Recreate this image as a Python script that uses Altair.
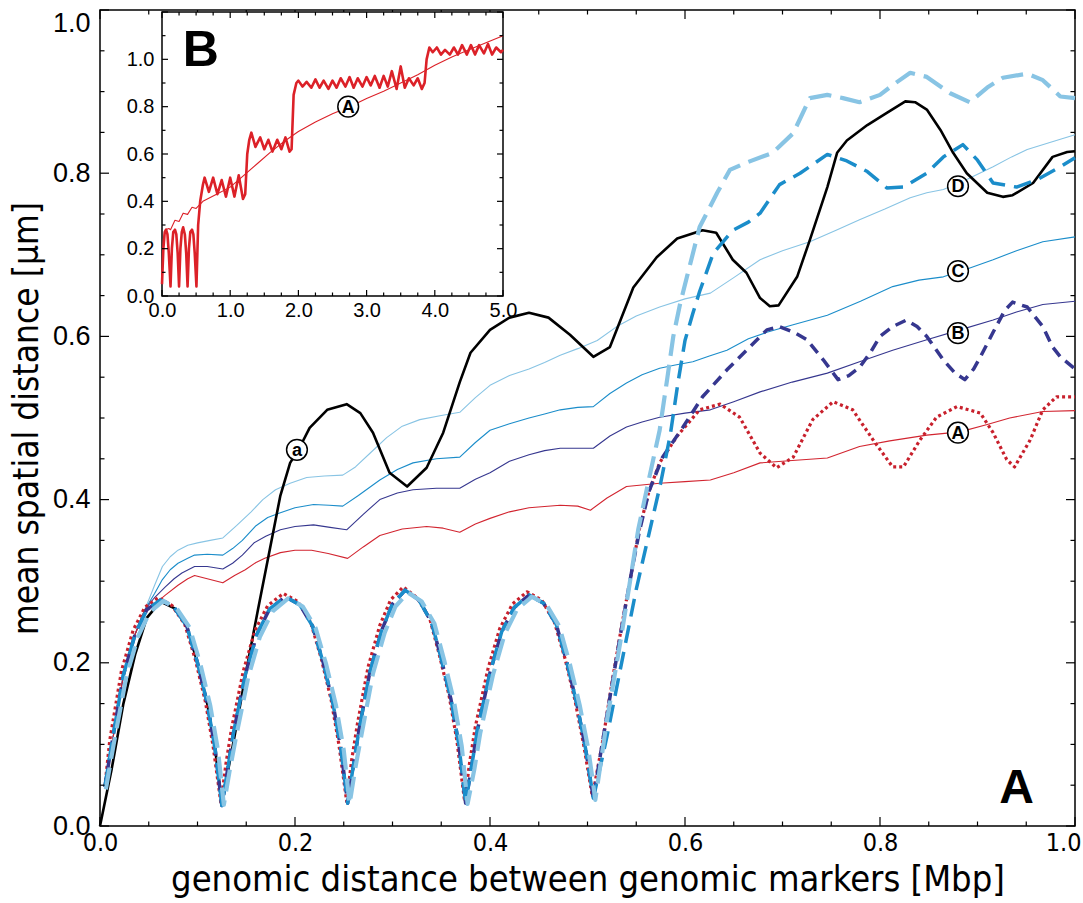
import altair as alt
import pandas as pd

# ---------------- main panel data (x in Mbp, y in um) ----------------
# oscillating start shared by curves B and C
osc_x = [0.005, 0.012, 0.024, 0.036, 0.048, 0.062, 0.076, 0.089, 0.1, 0.11, 0.118, 0.125,
         0.131, 0.137, 0.149, 0.161, 0.174, 0.19, 0.205, 0.218, 0.229, 0.239, 0.247, 0.254,
         0.26, 0.266, 0.277, 0.289, 0.3, 0.313, 0.327, 0.34, 0.35, 0.36, 0.368, 0.375,
         0.381, 0.387, 0.4, 0.412, 0.425, 0.44, 0.455, 0.468, 0.479, 0.489, 0.498, 0.506]
osc_y = [0.048, 0.1, 0.185, 0.235, 0.265, 0.277, 0.268, 0.245, 0.2, 0.15, 0.095, 0.025,
         0.07, 0.115, 0.185, 0.235, 0.266, 0.281, 0.271, 0.245, 0.2, 0.15, 0.095, 0.028,
         0.075, 0.12, 0.19, 0.24, 0.272, 0.289, 0.277, 0.25, 0.205, 0.155, 0.1, 0.028,
         0.072, 0.117, 0.188, 0.238, 0.268, 0.283, 0.273, 0.247, 0.2, 0.15, 0.095, 0.034]
# oscillating start of curve A (red dotted)
osc_x_A = [0.005, 0.01, 0.022, 0.034, 0.046, 0.06, 0.074, 0.087, 0.098, 0.108, 0.116, 0.124,
           0.129, 0.135, 0.147, 0.159, 0.172, 0.188, 0.203, 0.216, 0.227, 0.237, 0.245, 0.253,
           0.258, 0.264, 0.275, 0.287, 0.298, 0.311, 0.325, 0.338, 0.348, 0.358, 0.366, 0.374,
           0.379, 0.385, 0.398, 0.41, 0.423, 0.438, 0.453, 0.466, 0.477, 0.487, 0.496, 0.505]
osc_y_A = [0.048, 0.105, 0.19, 0.24, 0.268, 0.28, 0.27, 0.247, 0.203, 0.153, 0.098, 0.028,
           0.075, 0.12, 0.19, 0.24, 0.27, 0.285, 0.275, 0.25, 0.205, 0.155, 0.1, 0.03,
           0.08, 0.125, 0.195, 0.246, 0.277, 0.293, 0.28, 0.255, 0.21, 0.16, 0.105, 0.03,
           0.077, 0.122, 0.193, 0.242, 0.272, 0.287, 0.277, 0.25, 0.205, 0.155, 0.1, 0.036]
# oscillating start of curve D (light blue long dash)
osc_x_D = [0.006, 0.014, 0.027, 0.039, 0.051, 0.065, 0.079, 0.092, 0.103, 0.113, 0.121, 0.127,
           0.133, 0.14, 0.152, 0.164, 0.177, 0.193, 0.208, 0.221, 0.232, 0.242, 0.25, 0.256,
           0.262, 0.269, 0.28, 0.292, 0.303, 0.316, 0.33, 0.343, 0.353, 0.363, 0.371, 0.377,
           0.384, 0.39, 0.403, 0.415, 0.428, 0.443, 0.458, 0.471, 0.482, 0.492, 0.501, 0.508]
osc_y_D = [0.045, 0.1, 0.183, 0.232, 0.262, 0.276, 0.266, 0.243, 0.198, 0.148, 0.093, 0.026,
           0.068, 0.112, 0.182, 0.232, 0.263, 0.279, 0.269, 0.243, 0.198, 0.148, 0.093, 0.027,
           0.072, 0.117, 0.187, 0.237, 0.269, 0.286, 0.275, 0.248, 0.203, 0.153, 0.098, 0.027,
           0.07, 0.114, 0.185, 0.235, 0.266, 0.281, 0.271, 0.245, 0.198, 0.148, 0.093, 0.032]

a_tail_x = [0.515, 0.525, 0.535, 0.545, 0.553, 0.563, 0.574, 0.592, 0.615, 0.636, 0.656, 0.677,
            0.694, 0.711, 0.731, 0.752, 0.772, 0.793, 0.813, 0.824, 0.841, 0.858, 0.879, 0.903,
            0.916, 0.93, 0.938, 0.954, 0.967, 0.981, 1.0]
a_tail_y = [0.1, 0.175, 0.245, 0.31, 0.363, 0.41, 0.445, 0.478, 0.51, 0.517, 0.501, 0.457,
            0.439, 0.452, 0.498, 0.52, 0.51, 0.473, 0.44, 0.44, 0.473, 0.501, 0.514, 0.506,
            0.482, 0.449, 0.44, 0.473, 0.51, 0.526, 0.526]

b_tail_x = [0.515, 0.525, 0.535, 0.545, 0.553, 0.563, 0.577, 0.598, 0.618, 0.643, 0.663, 0.684,
            0.697, 0.712, 0.725, 0.742, 0.757, 0.768, 0.779, 0.79, 0.8, 0.813, 0.827, 0.838,
            0.848, 0.865, 0.877, 0.887, 0.896, 0.903, 0.916, 0.928, 0.936, 0.951, 0.967, 0.977,
            0.985, 1.0]
b_tail_y = [0.1, 0.172, 0.243, 0.31, 0.36, 0.41, 0.452, 0.489, 0.526, 0.559, 0.583, 0.608,
            0.612, 0.605, 0.596, 0.571, 0.547, 0.552, 0.562, 0.58, 0.6, 0.612, 0.62, 0.612,
            0.6, 0.571, 0.555, 0.547, 0.56, 0.575, 0.605, 0.632, 0.642, 0.636, 0.612, 0.587,
            0.575, 0.56]

c_tail_x = [0.52, 0.535, 0.55, 0.564, 0.575, 0.585, 0.593, 0.6, 0.608, 0.615, 0.629, 0.649,
            0.665, 0.677, 0.697, 0.718, 0.746, 0.766, 0.787, 0.807, 0.824, 0.848, 0.865, 0.885,
            0.9, 0.916, 0.94, 0.961, 0.985, 1.0]
c_tail_y = [0.11, 0.2, 0.29, 0.363, 0.42, 0.48, 0.545, 0.595, 0.628, 0.655, 0.702, 0.73,
            0.74, 0.751, 0.786, 0.8, 0.823, 0.815, 0.802, 0.782, 0.783, 0.8, 0.82, 0.835,
            0.816, 0.788, 0.783, 0.792, 0.808, 0.819]

d_tail_x = [0.52, 0.535, 0.552, 0.563, 0.574, 0.582, 0.588, 0.595, 0.602, 0.615, 0.633, 0.646,
            0.663, 0.69, 0.711, 0.728, 0.746, 0.762, 0.779, 0.8, 0.813, 0.831, 0.848, 0.872,
            0.892, 0.91, 0.926, 0.951, 0.967, 0.985, 1.0]
d_tail_y = [0.13, 0.235, 0.363, 0.425, 0.485, 0.55, 0.6, 0.64, 0.673, 0.734, 0.776, 0.804,
            0.813, 0.825, 0.849, 0.892, 0.896, 0.892, 0.887, 0.896, 0.908, 0.923, 0.918, 0.898,
            0.887, 0.905, 0.917, 0.922, 0.914, 0.894, 0.892]

blk_x = [0.0, 0.012, 0.024, 0.036, 0.048, 0.062, 0.076, 0.089, 0.1, 0.11, 0.118, 0.125, 0.138,
         0.15, 0.162, 0.174, 0.185, 0.195, 0.204, 0.215, 0.233, 0.253, 0.267, 0.28, 0.297, 0.315,
         0.335, 0.352, 0.369, 0.38, 0.4, 0.42, 0.44, 0.46, 0.482, 0.506, 0.523, 0.547, 0.571,
         0.592, 0.618, 0.632, 0.649, 0.663, 0.677, 0.687, 0.696, 0.715, 0.728, 0.746, 0.756,
         0.766, 0.787, 0.807, 0.826, 0.836, 0.848, 0.862, 0.875, 0.889, 0.91, 0.926, 0.936,
         0.957, 0.977, 0.992, 1.0]
blk_y = [0.0, 0.07, 0.15, 0.21, 0.255, 0.275, 0.267, 0.245, 0.2, 0.15, 0.095, 0.028, 0.11,
         0.19, 0.265, 0.338, 0.405, 0.445, 0.462, 0.488, 0.51, 0.517, 0.506, 0.482, 0.433, 0.416,
         0.439, 0.482, 0.544, 0.58, 0.608, 0.623, 0.629, 0.623, 0.602, 0.575, 0.587, 0.66, 0.697,
         0.72, 0.73, 0.727, 0.694, 0.678, 0.647, 0.637, 0.638, 0.673, 0.718, 0.783, 0.825,
         0.84, 0.859, 0.874, 0.888, 0.887, 0.878, 0.853, 0.825, 0.8, 0.776, 0.771, 0.773,
         0.788, 0.82, 0.826, 0.827]

thinD_x = [0.005, 0.024, 0.036, 0.046, 0.056, 0.064, 0.072, 0.08, 0.09, 0.1, 0.113, 0.126, 0.14,
           0.155, 0.167, 0.18, 0.195, 0.212, 0.23, 0.249, 0.262, 0.278, 0.294, 0.31, 0.328, 0.35,
           0.369, 0.385, 0.4, 0.42, 0.44, 0.456, 0.472, 0.49, 0.51, 0.53, 0.55, 0.574, 0.6, 0.626,
           0.65, 0.677, 0.7, 0.728, 0.755, 0.779, 0.805, 0.831, 0.848, 0.865, 0.89, 0.916, 0.935,
           0.951, 0.975, 1.0]
thinD_y = [0.048, 0.185, 0.235, 0.265, 0.295, 0.318, 0.33, 0.338, 0.344, 0.347, 0.35, 0.353, 0.368,
           0.385, 0.4, 0.412, 0.42, 0.427, 0.429, 0.43, 0.44, 0.458, 0.476, 0.49, 0.498, 0.503,
           0.507, 0.525, 0.54, 0.552, 0.56, 0.568, 0.577, 0.585, 0.595, 0.612, 0.625, 0.636, 0.646,
           0.653, 0.672, 0.694, 0.705, 0.716, 0.73, 0.743, 0.756, 0.77, 0.776, 0.78, 0.793, 0.808,
           0.82, 0.829, 0.838, 0.847]

thinC_x = [0.005, 0.024, 0.036, 0.046, 0.056, 0.064, 0.072, 0.08, 0.09, 0.097, 0.11, 0.126, 0.136,
           0.146, 0.16, 0.172, 0.185, 0.2, 0.219, 0.235, 0.249, 0.265, 0.287, 0.305, 0.321, 0.345,
           0.369, 0.385, 0.4, 0.42, 0.44, 0.456, 0.472, 0.49, 0.506, 0.523, 0.54, 0.556, 0.574,
           0.59, 0.608, 0.625, 0.643, 0.665, 0.684, 0.71, 0.746, 0.78, 0.813, 0.84, 0.865, 0.89,
           0.916, 0.94, 0.967, 1.0]
thinC_y = [0.048, 0.185, 0.235, 0.265, 0.285, 0.302, 0.314, 0.322, 0.328, 0.332, 0.333, 0.332, 0.34,
           0.35, 0.368, 0.378, 0.384, 0.39, 0.394, 0.393, 0.392, 0.405, 0.424, 0.437, 0.445, 0.45,
           0.452, 0.47, 0.485, 0.493, 0.5, 0.505, 0.51, 0.513, 0.514, 0.53, 0.543, 0.553, 0.561,
           0.565, 0.569, 0.576, 0.583, 0.597, 0.605, 0.614, 0.626, 0.643, 0.661, 0.669, 0.673,
           0.683, 0.694, 0.705, 0.716, 0.722]

thinB_x = [0.005, 0.024, 0.036, 0.046, 0.056, 0.067, 0.076, 0.084, 0.097, 0.11, 0.126, 0.136,
           0.146, 0.158, 0.17, 0.185, 0.2, 0.219, 0.236, 0.253, 0.27, 0.287, 0.305, 0.321, 0.345,
           0.369, 0.385, 0.4, 0.42, 0.44, 0.456, 0.472, 0.49, 0.506, 0.523, 0.54, 0.556, 0.574,
           0.6, 0.626, 0.65, 0.677, 0.71, 0.746, 0.779, 0.813, 0.848, 0.882, 0.916, 0.94, 0.967, 1.0]
thinB_y = [0.048, 0.185, 0.235, 0.265, 0.28, 0.293, 0.303, 0.31, 0.318, 0.318, 0.315, 0.322,
           0.332, 0.347, 0.355, 0.363, 0.367, 0.369, 0.366, 0.363, 0.382, 0.4, 0.408, 0.412, 0.414,
           0.414, 0.425, 0.433, 0.447, 0.455, 0.46, 0.463, 0.463, 0.463, 0.478, 0.489, 0.495, 0.501,
           0.506, 0.51, 0.52, 0.532, 0.544, 0.555, 0.569, 0.583, 0.596, 0.608, 0.62, 0.63, 0.639, 0.643]

thinA_x = [0.005, 0.024, 0.036, 0.046, 0.056, 0.067, 0.08, 0.09, 0.097, 0.11, 0.126, 0.138, 0.149,
           0.16, 0.169, 0.185, 0.2, 0.217, 0.234, 0.254, 0.27, 0.287, 0.31, 0.335, 0.352, 0.369,
           0.385, 0.4, 0.42, 0.44, 0.472, 0.49, 0.503, 0.52, 0.54, 0.574, 0.6, 0.626, 0.65, 0.677,
           0.71, 0.746, 0.779, 0.81, 0.848, 0.882, 0.91, 0.933, 0.967, 1.0]
thinA_y = [0.048, 0.185, 0.235, 0.265, 0.272, 0.283, 0.295, 0.303, 0.307, 0.303, 0.298, 0.307, 0.314,
           0.323, 0.328, 0.335, 0.338, 0.338, 0.334, 0.328, 0.342, 0.356, 0.364, 0.367, 0.365, 0.36,
           0.37, 0.377, 0.385, 0.39, 0.393, 0.392, 0.387, 0.402, 0.416, 0.42, 0.422, 0.424, 0.433,
           0.445, 0.448, 0.451, 0.465, 0.472, 0.479, 0.483, 0.492, 0.5, 0.508, 0.509]

lab_x = [0.88, 0.88, 0.88, 0.88, 0.202]
lab_y = [0.784, 0.68, 0.604, 0.482, 0.461]
lab_t = ["D", "C", "B", "A", "a"]

# ---------------- inset (panel B) data ----------------
ins_x = [0.0, 0.02, 0.04, 0.06, 0.08, 0.1, 0.125, 0.145, 0.165, 0.19, 0.21, 0.23, 0.25, 0.27,
         0.29, 0.31, 0.335, 0.355, 0.375, 0.395, 0.415, 0.44, 0.46, 0.48, 0.505, 0.53, 0.56, 0.6,
         0.625, 0.6875, 0.75, 0.8125, 0.875, 0.9375, 1.0, 1.0625, 1.125, 1.1875, 1.22, 1.25, 1.28,
         1.31, 1.37, 1.44, 1.5, 1.56, 1.62, 1.69, 1.75, 1.81, 1.87, 1.9, 1.93, 1.97, 2.0, 2.06,
         2.12, 2.19, 2.25, 2.31, 2.37, 2.44, 2.5, 2.56, 2.62, 2.69, 2.75, 2.81, 2.87, 2.94, 3.0,
         3.06, 3.12, 3.19, 3.25, 3.31, 3.37, 3.44, 3.5, 3.56, 3.62, 3.69, 3.75, 3.81, 3.85, 3.88,
         3.92, 3.97, 4.03, 4.09, 4.15, 4.22, 4.28, 4.34, 4.4, 4.47, 4.53, 4.59, 4.65, 4.72, 4.78,
         4.84, 4.9, 4.97, 5.0]
ins_y = [0.05, 0.2, 0.27, 0.28, 0.26, 0.18, 0.04, 0.2, 0.27, 0.28, 0.26, 0.18, 0.04, 0.2,
         0.27, 0.29, 0.26, 0.18, 0.04, 0.2, 0.27, 0.28, 0.26, 0.18, 0.04, 0.3, 0.4, 0.47,
         0.5, 0.44, 0.5, 0.43, 0.49, 0.42, 0.5, 0.42, 0.51, 0.41, 0.43, 0.6, 0.66,
         0.69, 0.63, 0.67, 0.62, 0.66, 0.61, 0.66, 0.62, 0.67, 0.61, 0.62, 0.85, 0.9, 0.91, 0.885,
         0.905, 0.88, 0.915, 0.88, 0.91, 0.875, 0.91, 0.88, 0.92, 0.885, 0.925, 0.88, 0.92, 0.885, 0.925,
         0.89, 0.93, 0.88, 0.93, 0.885, 0.95, 0.875, 0.97, 0.88, 0.92, 0.89, 0.92, 0.875, 0.9, 1.0,
         1.05, 1.03, 1.05, 1.02, 1.04, 1.02, 1.05, 1.02, 1.06, 1.02, 1.06, 1.02, 1.06, 1.025, 1.065,
         1.02, 1.05, 1.03, 1.04]
inT_x = [0.0, 0.02, 0.05, 0.1, 0.125, 0.19, 0.25, 0.31, 0.375, 0.44, 0.5, 0.6, 0.8, 1.0, 1.2,
         1.4, 1.6, 1.8, 2.0, 2.25, 2.5, 2.75, 3.0, 3.25, 3.5, 3.75, 4.0, 4.25, 4.5, 4.75, 5.0]
inT_y = [0.05, 0.24, 0.28, 0.285, 0.28, 0.32, 0.315, 0.35, 0.345, 0.375, 0.37, 0.4, 0.43, 0.46, 0.51,
         0.56, 0.61, 0.655, 0.695, 0.735, 0.77, 0.80, 0.835, 0.865, 0.9, 0.935, 0.975, 1.01, 1.04,
         1.07, 1.1]
ins_lab_x = [2.73]
ins_lab_y = [0.80]
ins_lab_t = ["A"]

# tick values
main_major = [0.0, 0.2, 0.4, 0.6, 0.8, 1.0]
main_minor = [0.05, 0.1, 0.15, 0.25, 0.3, 0.35, 0.45, 0.5, 0.55, 0.65, 0.7, 0.75, 0.85, 0.9, 0.95]
inx_major = [0.0, 1.0, 2.0, 3.0, 4.0, 5.0]
inx_minor = [0.25, 0.5, 0.75, 1.25, 1.5, 1.75, 2.25, 2.5, 2.75, 3.25, 3.5, 3.75, 4.25, 4.5, 4.75]
iny_major = [0.0, 0.2, 0.4, 0.6, 0.8, 1.0, 1.2]
iny_minor = [0.1, 0.3, 0.5, 0.7, 0.9, 1.1]
iny_labels = [0.0, 0.2, 0.4, 0.6, 0.8, 1.0]
inset_x_domain = [0.0, 5.0]
inset_y_domain = [0.0, 1.2]

# ---------------- layout / style ----------------
W, H = 975, 816
IN_XR = [62, 403]
IN_YR = [286, 2]
SANS = "Liberation Sans, Arial, Helvetica, sans-serif"
COND = "DejaVu Sans Condensed, Liberation Sans, sans-serif"

COL_D = "#88c4e4"
COL_C = "#1b8dca"
COL_B = "#36378f"
COL_A = "#d22530"

xs_m = alt.Scale(domain=[0, 1], nice=False, zero=False)
ys_m = alt.Scale(domain=[0, 1], nice=False, zero=False)
xs_i = alt.Scale(domain=inset_x_domain, range=IN_XR, nice=False, zero=False)
ys_i = alt.Scale(domain=inset_y_domain, range=IN_YR, nice=False, zero=False)


def df_xy(xs, ys):
    return pd.DataFrame({"x": xs, "y": ys})


def line(df, xs, ys, color, width, dash=None, ax=None, ay=None):
    kw = dict(color=color, strokeWidth=width, strokeJoin="round")
    if dash:
        kw["strokeDash"] = dash
    return alt.Chart(df).mark_line(**kw).encode(
        x=alt.X("x:Q", scale=xs, axis=ax),
        y=alt.Y("y:Q", scale=ys, axis=ay),
    )


def xticks(vals, xs, y0, y1, w=1.2):
    return alt.Chart(pd.DataFrame({"v": vals})).mark_rule(color="black", strokeWidth=w).encode(
        x=alt.X("v:Q", scale=xs, axis=None), y=alt.value(y0), y2=alt.value(y1))


def yticks(vals, ys, x0, x1, w=1.2):
    return alt.Chart(pd.DataFrame({"v": vals})).mark_rule(color="black", strokeWidth=w).encode(
        y=alt.Y("v:Q", scale=ys, axis=None), x=alt.value(x0), x2=alt.value(x1))


def circled(xv, yv, tv, xs, ys):
    d = pd.DataFrame({"x": xv, "y": yv, "t": tv})
    pt = alt.Chart(d).mark_point(shape="circle", filled=True, fill="white", stroke="black",
                                 strokeWidth=1.5, size=430, opacity=1).encode(
        x=alt.X("x:Q", scale=xs, axis=None), y=alt.Y("y:Q", scale=ys, axis=None))
    tx = alt.Chart(d).mark_text(font=SANS, fontWeight="bold", fontSize=18, color="black",
                                align="center", baseline="middle", dy=1).encode(
        x=alt.X("x:Q", scale=xs, axis=None), y=alt.Y("y:Q", scale=ys, axis=None), text="t:N")
    return [pt, tx]


x_axis_main = alt.Axis(orient="bottom", values=main_major, format=".1f", ticks=False, domain=False,
                       grid=False, labelFont=COND, labelFontSize=25, labelPadding=4,
                       labelColor="black", labelFlush=False,
                       labelAlign={"condition": {"test": "datum.value >= 1", "value": "right"},
                                   "value": "center"},
                       labelOffset={"condition": {"test": "datum.value >= 1", "value": 6},
                                    "value": 0},
                       title="genomic distance between genomic markers [Mbp]",
                       titleFont=COND, titleFontSize=36, titleFontWeight="normal",
                       titleColor="black", titlePadding=7)
y_axis_main = alt.Axis(orient="left", values=main_major, format=".1f", ticks=False, domain=False,
                       grid=False, labelFont=SANS, labelFontSize=27, labelPadding=10,
                       labelColor="black", labelFlush=False,
                       labelBaseline={"condition": {"test": "datum.value >= 1", "value": "top"},
                                      "value": "middle"},
                       title="mean spatial distance [μm]",
                       titleFont=COND, titleFontSize=35, titleFontWeight="normal",
                       titleColor="black", titlePadding=8)

x_axis_in = alt.Axis(orient="bottom", offset=-(H - IN_YR[0]), values=inx_major, format=".1f",
                     ticks=False, domain=False, grid=False, labelFont=SANS, labelFontSize=20,
                     labelPadding=4, labelColor="black", labelFlush=False, title=None)
y_axis_in = alt.Axis(orient="left", offset=-IN_XR[0], values=iny_labels, format=".1f",
                     ticks=False, domain=False, grid=False, labelFont=SANS, labelFontSize=20,
                     labelPadding=8, labelColor="black", labelFlush=False, title=None)

layers = [
    line(df_xy(thinD_x, thinD_y), xs_m, ys_m, COL_D, 1.1, ax=x_axis_main, ay=y_axis_main),
    line(df_xy(thinC_x, thinC_y), xs_m, ys_m, COL_C, 1.1),
    line(df_xy(thinB_x, thinB_y), xs_m, ys_m, COL_B, 1.1),
    line(df_xy(thinA_x, thinA_y), xs_m, ys_m, COL_A, 1.1),
    line(df_xy(blk_x, blk_y), xs_m, ys_m, "black", 2.6),
    line(df_xy(osc_x_A + a_tail_x, osc_y_A + a_tail_y), xs_m, ys_m, "#c8202c", 3.2, dash=[3, 3]),
    line(df_xy(osc_x + b_tail_x, osc_y + b_tail_y), xs_m, ys_m, COL_B, 3.5, dash=[11, 7]),
    line(df_xy(osc_x + c_tail_x, osc_y + c_tail_y), xs_m, ys_m, COL_C, 3.5, dash=[18, 9]),
    line(df_xy(osc_x_D + d_tail_x, osc_y_D + d_tail_y), xs_m, ys_m, COL_D, 4.2, dash=[22, 9]),
    xticks(main_major, xs_m, H, H - 9), xticks(main_minor, xs_m, H, H - 4.5),
    xticks(main_major, xs_m, 0, 9), xticks(main_minor, xs_m, 0, 4.5),
    yticks(main_major, ys_m, 0, 9), yticks(main_minor, ys_m, 0, 4.5),
    yticks(main_major, ys_m, W, W - 9), yticks(main_minor, ys_m, W, W - 4.5),
]
layers += circled(lab_x, lab_y, lab_t, xs_m, ys_m)
layers.append(
    alt.Chart(pd.DataFrame({"x": [0.94], "y": [0.045], "t": ["A"]})).mark_text(
        font=SANS, fontWeight="bold", fontSize=48, color="black", align="center",
        baseline="middle").encode(
        x=alt.X("x:Q", scale=xs_m, axis=None), y=alt.Y("y:Q", scale=ys_m, axis=None), text="t:N"))

frame_df = pd.DataFrame({"x": [inset_x_domain[0]], "x2": [inset_x_domain[1]],
                         "y": [inset_y_domain[0]], "y2": [inset_y_domain[1]]})
layers += [
    alt.Chart(frame_df).mark_rect(fill="white", stroke="black", strokeWidth=1.5).encode(
        x=alt.X("x:Q", scale=xs_i, axis=x_axis_in), x2="x2:Q",
        y=alt.Y("y:Q", scale=ys_i, axis=y_axis_in), y2="y2:Q"),
    line(df_xy(inT_x, inT_y), xs_i, ys_i, "#dc2128", 1.1),
    line(df_xy(ins_x, ins_y), xs_i, ys_i, "#dc2128", 2.6),
    xticks(inx_major, xs_i, IN_YR[0], IN_YR[0] - 6), xticks(inx_minor, xs_i, IN_YR[0], IN_YR[0] - 3.5),
    xticks(inx_major, xs_i, IN_YR[1], IN_YR[1] + 6), xticks(inx_minor, xs_i, IN_YR[1], IN_YR[1] + 3.5),
    yticks(iny_major, ys_i, IN_XR[0], IN_XR[0] + 6), yticks(iny_minor, ys_i, IN_XR[0], IN_XR[0] + 3.5),
    yticks(iny_major, ys_i, IN_XR[1], IN_XR[1] - 6), yticks(iny_minor, ys_i, IN_XR[1], IN_XR[1] - 3.5),
]
layers += circled(ins_lab_x, ins_lab_y, ins_lab_t, xs_i, ys_i)
layers.append(
    alt.Chart(pd.DataFrame({"x": [0.57], "y": [1.036], "t": ["B"]})).mark_text(
        font=SANS, fontWeight="bold", fontSize=50, color="black", align="center",
        baseline="middle").encode(
        x=alt.X("x:Q", scale=xs_i, axis=None), y=alt.Y("y:Q", scale=ys_i, axis=None), text="t:N"))

chart = alt.layer(*layers).resolve_scale(x="independent", y="independent").properties(
    width=W, height=H,
    autosize=alt.AutoSizeParams(type="none"),
    padding={"left": 100, "top": 10, "right": 8, "bottom": 77},
    background="white",
).configure_view(stroke="black", strokeWidth=1.5)

chart.save("out.html", embed_options={"renderer": "svg", "actions": False})
